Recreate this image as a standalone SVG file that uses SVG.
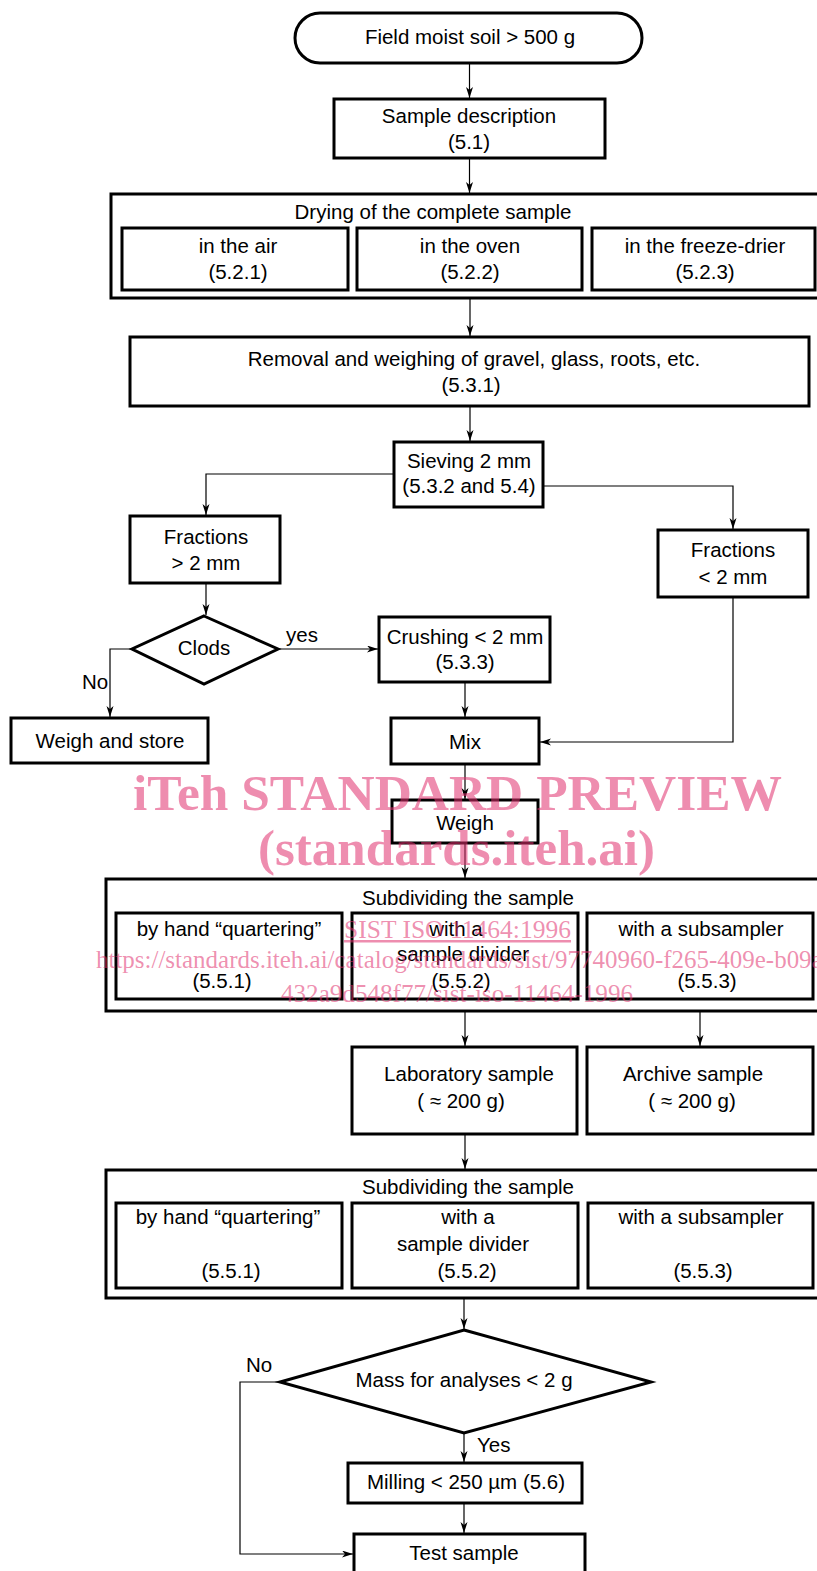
<svg xmlns="http://www.w3.org/2000/svg" width="817" height="1571" viewBox="0 0 817 1571">
<defs>
<style>
.b{fill:#fff;stroke:#000;stroke-width:3}
.o{fill:none;stroke:#000;stroke-width:3}
.c{fill:none;stroke:#000;stroke-width:1.2}
text{font-family:"Liberation Sans",Arial,sans-serif;font-size:20.5px;fill:#000}
.m{text-anchor:middle}
.w{font-family:"Liberation Serif","Times New Roman",serif;fill:#e0306e;fill-opacity:0.55}
.wb{font-weight:bold;font-size:50px}
.ws{font-size:25px}
</style>
<marker id="a" markerWidth="12" markerHeight="8" refX="11" refY="3.5" orient="auto" markerUnits="userSpaceOnUse">
<path d="M0,0 L11,3.5 L0,7 L3,3.5 z" fill="#000"/>
</marker>
</defs>
<rect width="817" height="1571" fill="#fff"/>

<g id="connectors">
<path class="c" d="M469.5,64 V98" marker-end="url(#a)"/>
<path class="c" d="M469.5,158 V193" marker-end="url(#a)"/>
<path class="c" d="M470,298 V336" marker-end="url(#a)"/>
<path class="c" d="M470,406 V441" marker-end="url(#a)"/>
<path class="c" d="M394,474 H206 V515" marker-end="url(#a)"/>
<path class="c" d="M543,486 H733 V529" marker-end="url(#a)"/>
<path class="c" d="M206,583 V615" marker-end="url(#a)"/>
<path class="c" d="M278,649 H378" marker-end="url(#a)"/>
<path class="c" d="M132,649 H110 V717" marker-end="url(#a)"/>
<path class="c" d="M465,682 V717" marker-end="url(#a)"/>
<path class="c" d="M733,597 V742 H540" marker-end="url(#a)"/>
<path class="c" d="M465,764 V799" marker-end="url(#a)"/>
<path class="c" d="M465,843 V878" marker-end="url(#a)"/>
<path class="c" d="M465,1011 V1046" marker-end="url(#a)"/>
<path class="c" d="M700,1011 V1046" marker-end="url(#a)"/>
<path class="c" d="M465,1134 V1169" marker-end="url(#a)"/>
<path class="c" d="M464,1298 V1329" marker-end="url(#a)"/>
<path class="c" d="M280,1382 H240 V1554 H353" marker-end="url(#a)"/>
<path class="c" d="M464,1433 V1462" marker-end="url(#a)"/>
<path class="c" d="M464,1503 V1533" marker-end="url(#a)"/>
</g>

<g id="n-start">
<rect class="b" x="295" y="13" width="347" height="50" rx="25"/>
<text class="m" x="470" y="44">Field moist soil &gt; 500 g</text>
</g>
<g id="n-desc">
<rect class="b" x="334" y="99" width="271" height="59"/>
<text class="m" x="469" y="123">Sample description</text>
<text class="m" x="469" y="149">(5.1)</text>
</g>
<g id="n-drying">
<rect class="o" x="111" y="194" width="715" height="104"/>
<text class="m" x="433" y="219">Drying of the complete sample</text>
</g>
<g id="n-air">
<rect class="b" x="122" y="228" width="226" height="62"/>
<text class="m" x="238" y="253">in the air</text>
<text class="m" x="238" y="279">(5.2.1)</text>
</g>
<g id="n-oven">
<rect class="b" x="357" y="228" width="225" height="62"/>
<text class="m" x="470" y="253">in the oven</text>
<text class="m" x="470" y="279">(5.2.2)</text>
</g>
<g id="n-freeze">
<rect class="b" x="592" y="228" width="223" height="62"/>
<text class="m" x="705" y="253">in the freeze-drier</text>
<text class="m" x="705" y="279">(5.2.3)</text>
</g>
<g id="n-removal">
<rect class="b" x="130" y="337" width="679" height="69"/>
<text class="m" x="474" y="366">Removal and weighing of gravel, glass, roots, etc.</text>
<text class="m" x="471" y="392">(5.3.1)</text>
</g>
<g id="n-sieving">
<rect class="b" x="394" y="442" width="149" height="65"/>
<text class="m" x="469" y="468">Sieving 2 mm</text>
<text class="m" x="469" y="493">(5.3.2 and 5.4)</text>
</g>
<g id="n-frac-gt">
<rect class="b" x="130" y="516" width="150" height="67"/>
<text class="m" x="206" y="544">Fractions</text>
<text class="m" x="206" y="570">&gt; 2 mm</text>
</g>
<g id="n-frac-lt">
<rect class="b" x="658" y="530" width="150" height="67"/>
<text class="m" x="733" y="557">Fractions</text>
<text class="m" x="733" y="584">&lt; 2 mm</text>
</g>
<g id="n-clods">
<path class="b" d="M204,616 L278,649 L204,684 L132,649 Z"/>
<text class="m" x="204" y="655">Clods</text>
<text x="286" y="642">yes</text>
<text x="82" y="689">No</text>
</g>
<g id="n-crushing">
<rect class="b" x="379" y="617" width="171" height="65"/>
<text class="m" x="465" y="644">Crushing &lt; 2 mm</text>
<text class="m" x="465" y="669">(5.3.3)</text>
</g>
<g id="n-store">
<rect class="b" x="11" y="718" width="197" height="45"/>
<text class="m" x="110" y="748">Weigh and store</text>
</g>
<g id="n-mix">
<rect class="b" x="391" y="718" width="148" height="46"/>
<text class="m" x="465" y="749">Mix</text>
</g>
<g id="n-weigh">
<rect class="b" x="392" y="800" width="146" height="43"/>
<text class="m" x="465" y="830">Weigh</text>
</g>
<g id="n-subdiv1">
<rect class="o" x="106" y="879" width="720" height="132"/>
<text class="m" x="468" y="905">Subdividing the sample</text>
</g>
<g id="n-hand1">
<rect class="b" x="116" y="913" width="226" height="86"/>
<text class="m" x="229" y="936">by hand “quartering”</text>
<text class="m" x="222" y="988">(5.5.1)</text>
</g>
<g id="n-divider1">
<rect class="b" x="352" y="913" width="226" height="86"/>
<text class="m" x="456" y="936">with a</text>
<text class="m" x="463" y="961">sample divider</text>
<text class="m" x="461" y="988">(5.5.2)</text>
</g>
<g id="n-sub1">
<rect class="b" x="587" y="913" width="226" height="86"/>
<text class="m" x="701" y="936">with a subsampler</text>
<text class="m" x="707" y="988">(5.5.3)</text>
</g>
<g id="n-lab">
<rect class="b" x="352" y="1047" width="225" height="87"/>
<text class="m" x="469" y="1081">Laboratory sample</text>
<text class="m" x="461" y="1108">( ≈ 200 g)</text>
</g>
<g id="n-archive">
<rect class="b" x="587" y="1047" width="226" height="87"/>
<text class="m" x="693" y="1081">Archive sample</text>
<text class="m" x="692" y="1108">( ≈ 200 g)</text>
</g>
<g id="n-subdiv2">
<rect class="o" x="106" y="1170" width="720" height="128"/>
<text class="m" x="468" y="1194">Subdividing the sample</text>
</g>
<g id="n-hand2">
<rect class="b" x="116" y="1203" width="226" height="85"/>
<text class="m" x="228" y="1224">by hand “quartering”</text>
<text class="m" x="231" y="1278">(5.5.1)</text>
</g>
<g id="n-divider2">
<rect class="b" x="352" y="1203" width="226" height="85"/>
<text class="m" x="468" y="1224">with a</text>
<text class="m" x="463" y="1251">sample divider</text>
<text class="m" x="467" y="1278">(5.5.2)</text>
</g>
<g id="n-sub2">
<rect class="b" x="588" y="1203" width="225" height="85"/>
<text class="m" x="701" y="1224">with a subsampler</text>
<text class="m" x="703" y="1278">(5.5.3)</text>
</g>
<g id="n-mass">
<path class="b" d="M464,1330 L651,1382 L464,1433 L280,1382 Z"/>
<text class="m" x="464" y="1387">Mass for analyses &lt; 2 g</text>
<text x="246" y="1372">No</text>
<text x="477" y="1452">Yes</text>
</g>
<g id="n-milling">
<rect class="b" x="348" y="1463" width="234" height="40"/>
<text class="m" x="466" y="1489">Milling &lt; 250 µm (5.6)</text>
</g>
<g id="n-test">
<rect class="b" x="354" y="1534" width="231" height="50"/>
<text class="m" x="464" y="1560">Test sample</text>
</g>

<g id="watermark">
<text class="w wb" x="133" y="810" textLength="649" lengthAdjust="spacingAndGlyphs">iTeh STANDARD PREVIEW</text>
<text class="w wb" x="258" y="865" textLength="397" lengthAdjust="spacingAndGlyphs">(standards.iteh.ai)</text>
<text class="w ws" x="344" y="938" textLength="227" lengthAdjust="spacingAndGlyphs" text-decoration="underline">SIST ISO 11464:1996</text>
<text class="w ws" x="96" y="968" textLength="735" lengthAdjust="spacingAndGlyphs">https://standards.iteh.ai/catalog/standards/sist/97740960-f265-409e-b09a-</text>
<text class="w ws" x="281" y="1002" textLength="352" lengthAdjust="spacingAndGlyphs">432a9d548f77/sist-iso-11464-1996</text>
</g>
</svg>
